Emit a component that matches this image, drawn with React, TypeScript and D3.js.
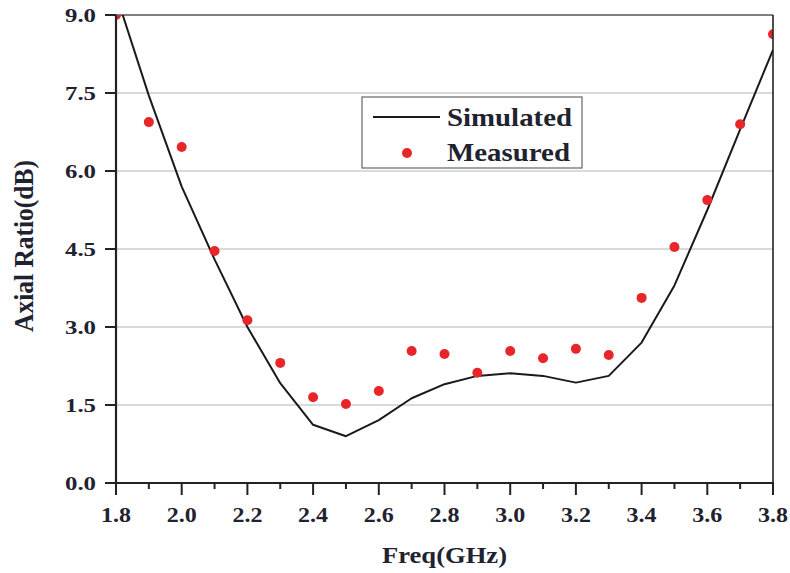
import React from "react";
import * as d3 from "d3";

const freqs = [1.8, 1.9, 2.0, 2.1, 2.2, 2.3, 2.4, 2.5, 2.6, 2.7, 2.8, 2.9, 3.0, 3.1, 3.2, 3.3, 3.4, 3.5, 3.6, 3.7, 3.8];
const simulated = [9.4, 7.45, 5.7, 4.3, 3.0, 1.92, 1.12, 0.9, 1.21, 1.63, 1.9, 2.06, 2.11, 2.06, 1.93, 2.06, 2.7, 3.8, 5.25, 6.8, 8.33];
const measured = [9.0, 6.94, 6.46, 4.46, 3.13, 2.31, 1.65, 1.52, 1.77, 2.54, 2.48, 2.12, 2.54, 2.4, 2.58, 2.46, 3.56, 4.54, 5.44, 6.9, 8.63];
const xTicks = [1.8, 2.0, 2.2, 2.4, 2.6, 2.8, 3.0, 3.2, 3.4, 3.6, 3.8];
const xMinorTicks = [1.9, 2.1, 2.3, 2.5, 2.7, 2.9, 3.1, 3.3, 3.5, 3.7];
const yTicks = [0, 1.5, 3.0, 4.5, 6.0, 7.5, 9.0];

const W = 790, H = 573;
const M = { left: 116, right: 773, top: 15, bottom: 483 };
const FONT = "'Liberation Serif', 'Times New Roman', serif";
const TXT = "#1f2330";

export default function App() {
  const x = d3.scaleLinear().domain([1.8, 3.8]).range([M.left, M.right]);
  const y = d3.scaleLinear().domain([0, 9]).range([M.bottom, M.top]);
  const line = d3.line<number>().x((_, i) => x(freqs[i])).y((d) => y(d));

  return (
    <svg width={W} height={H} style={{ position: "absolute", left: 0, top: 0, background: "#fff" }}>
      <defs>
        <clipPath id="plot">
          <rect x={M.left} y={M.top} width={M.right - M.left} height={M.bottom - M.top} />
        </clipPath>
      </defs>
      {yTicks.filter((t) => t > 0 && t < 9).map((t) => (
        <line key={t} x1={M.left} x2={M.right} y1={y(t)} y2={y(t)} stroke="#c9cfd4" strokeWidth={1.6} />
      ))}
      <line x1={M.left} x2={M.right} y1={M.top} y2={M.top} stroke="#555" strokeWidth={1.4} />
      <g clipPath="url(#plot)">
        <path d={line(simulated) || ""} fill="none" stroke="#1a1a1a" strokeWidth={2} strokeLinejoin="round" />
        {measured.map((v, i) => (
          <circle key={i} cx={x(freqs[i])} cy={y(v)} r={5} fill="#e8262a" />
        ))}
      </g>
      <line x1={M.left} x2={M.left} y1={M.top} y2={M.bottom + 1} stroke="#222" strokeWidth={2.2} />
      <line x1={M.left - 1} x2={M.right + 1} y1={M.bottom} y2={M.bottom} stroke="#222" strokeWidth={2.2} />
      <line x1={M.right} x2={M.right} y1={M.top} y2={M.bottom} stroke="#222" strokeWidth={1.6} />
      {yTicks.map((t) => (
        <g key={t}>
          <line x1={M.left - 11} x2={M.left} y1={y(t)} y2={y(t)} stroke="#222" strokeWidth={2} />
          <text x={65} y={y(t) + 6.5} textLength={31} lengthAdjust="spacingAndGlyphs" fontFamily={FONT} fontWeight="bold" fontSize={19} fill={TXT}>
            {t.toFixed(1)}
          </text>
        </g>
      ))}
      {xTicks.map((t) => (
        <g key={t}>
          <line x1={x(t)} x2={x(t)} y1={M.bottom} y2={M.bottom + 12} stroke="#222" strokeWidth={2} />
          <text x={x(t) - 15} y={522} textLength={30} lengthAdjust="spacingAndGlyphs" fontFamily={FONT} fontWeight="bold" fontSize={22} fill={TXT}>
            {t.toFixed(1)}
          </text>
        </g>
      ))}
      {xMinorTicks.map((t) => (
        <line key={t} x1={x(t)} x2={x(t)} y1={M.bottom} y2={M.bottom + 6} stroke="#222" strokeWidth={2} />
      ))}
      <text x={382} y={563} textLength={125} lengthAdjust="spacingAndGlyphs" fontFamily={FONT} fontWeight="bold" fontSize={24} fill={TXT}>
        Freq(GHz)
      </text>
      <g transform="translate(33,332) rotate(-90) scale(1,1.3)">
        <text x={0} y={0} textLength={172} lengthAdjust="spacingAndGlyphs" fontFamily={FONT} fontWeight="bold" fontSize={21} fill={TXT}>
          Axial Ratio(dB)
        </text>
      </g>
      <rect x={362} y={97} width={220} height={71} fill="#fff" stroke="#666" strokeWidth={1.2} />
      <line x1={373} x2={440} y1={117} y2={117} stroke="#1a1a1a" strokeWidth={2} />
      <circle cx={407} cy={153} r={5} fill="#e8262a" />
      <text x={447} y={126} textLength={125} lengthAdjust="spacingAndGlyphs" fontFamily={FONT} fontWeight="bold" fontSize={25} fill={TXT}>Simulated</text>
      <text x={447} y={161} textLength={123} lengthAdjust="spacingAndGlyphs" fontFamily={FONT} fontWeight="bold" fontSize={25} fill={TXT}>Measured</text>
    </svg>
  );
}
